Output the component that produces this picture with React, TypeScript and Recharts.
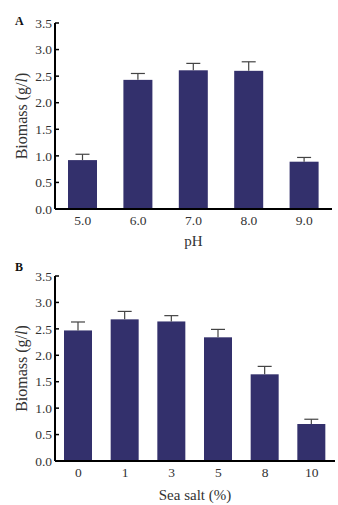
import { BarChart, Bar, XAxis, YAxis, Label } from "recharts"

const phLabels = ["5.0", "6.0", "7.0", "8.0", "9.0"]
const phBiomass = [0.92, 2.43, 2.61, 2.6, 0.89]
const phError = [0.11, 0.12, 0.13, 0.17, 0.08]

const saltLabels = ["0", "1", "3", "5", "8", "10"]
const saltBiomass = [2.47, 2.68, 2.64, 2.34, 1.64, 0.7]
const saltError = [0.16, 0.15, 0.11, 0.15, 0.15, 0.09]

const yTicks = [0, 0.5, 1, 1.5, 2, 2.5, 3, 3.5]

const FONT = "'Liberation Serif', 'Times New Roman', serif"
const BAR_COLOR = "#33306c"
const TEXT_COLOR = "#333"

// bar with an upper-only error whisker
const BarWithError = (props: any) => {
  const { x, y, width, height, payload } = props
  const perUnit = payload.value > 0 ? height / payload.value : 0
  const top = y - payload.err * perUnit
  const cx = x + width / 2
  return (
    <g>
      <rect x={x} y={y} width={width} height={height} fill={BAR_COLOR} />
      <line x1={cx} x2={cx} y1={y} y2={top} stroke="#444" strokeWidth={1.2} />
      <line x1={cx - 7} x2={cx + 7} y1={top} y2={top} stroke="#444" strokeWidth={1.2} />
    </g>
  )
}

const YTick = (props: any) => {
  const { x, y, payload } = props
  return (
    <g>
      <line x1={x + 3} x2={x + 7} y1={y} y2={y} stroke="#000" strokeWidth={1.5} />
      <text x={x} y={y} dy="0.35em" textAnchor="end" fontSize={13.5} fill={TEXT_COLOR} fontFamily={FONT}>
        {Number(payload.value).toFixed(1)}
      </text>
    </g>
  )
}

const YLabel = (props: any) => {
  const vb = props.viewBox
  const cx = 21
  const cy = vb.y + vb.height / 2
  return (
    <text
      x={cx}
      y={cy}
      transform={`rotate(-90, ${cx}, ${cy})`}
      textAnchor="middle"
      dominantBaseline="central"
      fontSize={16}
      fill={TEXT_COLOR}
      fontFamily={FONT}
    >
      Biomass (g/<tspan fontStyle="italic">l</tspan>)
    </text>
  )
}

interface PanelProps {
  letter: string
  labels: string[]
  values: number[]
  errors: number[]
  xTitle: string
  height: number
  top: number
  plotHeight: number
  right: number
  barSize: number
  letterTop: number
  titleBaseline: number
}

function Panel({
  letter,
  labels,
  values,
  errors,
  xTitle,
  height,
  top,
  plotHeight,
  right,
  barSize,
  letterTop,
  titleBaseline,
}: PanelProps) {
  const data = labels.map((name, i) => ({ name, value: values[i], err: errors[i] }))

  const XTitle = (p: any) => {
    const vb = p.viewBox
    return (
      <text
        x={vb.x + vb.width / 2}
        y={titleBaseline}
        textAnchor="middle"
        fontSize={15}
        fill={TEXT_COLOR}
        fontFamily={FONT}
      >
        {xTitle}
      </text>
    )
  }

  return (
    <div style={{ position: "relative", width: 338, height }}>
      <div
        style={{
          position: "absolute",
          left: 15,
          top: letterTop,
          fontFamily: FONT,
          fontWeight: "bold",
          fontSize: 12,
          color: "#111",
          lineHeight: 1,
        }}
      >
        {letter}
      </div>
      <BarChart width={338} height={height} data={data} margin={{ top, right, bottom: 0, left: 0 }}>
        <XAxis
          dataKey="name"
          height={height - top - plotHeight}
          axisLine={{ stroke: "#000", strokeWidth: 2 }}
          tickLine={false}
          tickSize={0}
          tickMargin={6}
          tick={{ fontSize: 13.5, fill: TEXT_COLOR, fontFamily: FONT }}
        >
          <Label content={<XTitle />} />
        </XAxis>
        <YAxis
          width={55}
          domain={[0, 3.5]}
          ticks={yTicks}
          interval={0}
          axisLine={{ stroke: "#000", strokeWidth: 2 }}
          tickLine={false}
          tickSize={0}
          tickMargin={3}
          tick={<YTick />}
        >
          <Label content={<YLabel />} />
        </YAxis>
        <Bar dataKey="value" barSize={barSize} shape={<BarWithError />} isAnimationActive={false} />
      </BarChart>
    </div>
  )
}

export default function App() {
  return (
    <div style={{ position: "absolute", left: 0, top: 0, width: 338, height: 505, background: "#fff" }}>
      <Panel
        letter="A"
        labels={phLabels}
        values={phBiomass}
        errors={phError}
        xTitle="pH"
        height={250}
        top={23}
        plotHeight={186}
        right={6}
        barSize={29}
        letterTop={15}
        titleBaseline={246}
      />
      <Panel
        letter="B"
        labels={saltLabels}
        values={saltBiomass}
        errors={saltError}
        xTitle="Sea salt (%)"
        height={255}
        top={26}
        plotHeight={185}
        right={3}
        barSize={28}
        letterTop={11}
        titleBaseline={250}
      />
    </div>
  )
}
